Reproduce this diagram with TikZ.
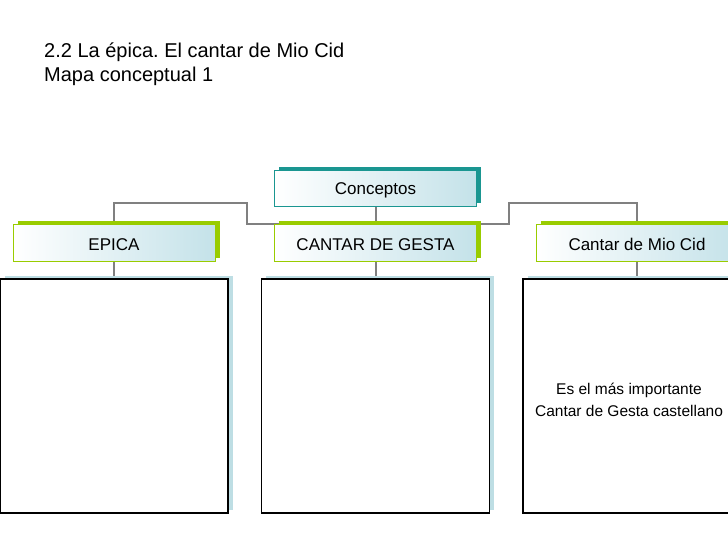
\documentclass[tikz,border=0pt]{standalone}
\usepackage{fontspec}
\setmainfont{Liberation Sans}
\frenchspacing
\usetikzlibrary{shadows,backgrounds}
\definecolor{tealdark}{RGB}{26,150,145}
\definecolor{limegreen}{RGB}{153,204,0}
\definecolor{paleblue}{RGB}{196,226,233}
\definecolor{shadowblue}{RGB}{190,222,228}
\definecolor{linegray}{RGB}{128,128,128}

\begin{document}
\begin{tikzpicture}[x=1pt,y=-1pt,
  topbox/.style={draw=tealdark, line width=0.8pt, left color=white, right color=paleblue, minimum width=202pt, minimum height=36pt, inner sep=0pt, text height=12pt, text depth=0pt, font=\fontsize{17}{20}\selectfont, general shadow={fill=tealdark, shadow xshift=4.5pt, shadow yshift=3pt}},
  midbox/.style={draw=limegreen, line width=0.8pt, left color=white, right color=paleblue, minimum width=202pt, minimum height=37pt, inner sep=0pt, text height=16pt, text depth=0pt, font=\fontsize{17}{20}\selectfont, general shadow={fill=limegreen, shadow xshift=4.5pt, shadow yshift=3pt}},
  bigbox/.style={draw=black, line width=1.4pt, fill=white, minimum width=228pt, minimum height=234pt, inner sep=0pt, general shadow={fill=shadowblue, shadow xshift=4.5pt, shadow yshift=3.5pt}},
  conn/.style={draw=linegray, line width=2pt}
]
\useasboundingbox (0,0) rectangle (728,546);
\clip (0,0) rectangle (728,546);

\node[anchor=base west, inner sep=0pt, font=\fontsize{20}{24}\selectfont] (title) at (44,57) {2.2 La épica. El cantar de Mio Cid};
\node[anchor=base west, inner sep=0pt, font=\fontsize{20}{24}\selectfont] (subtitle) at (44,81) {Mapa conceptual 1};

\node[topbox] (conceptos) at (375.5,188) {Conceptos};

\node[midbox] (epica) at (114,242.5) {EPICA};
\node[midbox] (cantar) at (375.5,242.5) {CANTAR DE GESTA};
\node[midbox] (miocid) at (637,242.5) {Cantar de Mio Cid};

\node[bigbox] (epicabox) at (114,396) {};
\node[bigbox] (cantarbox) at (375.5,396) {};
\node[bigbox] (miocidbox) at (637,396) {};
\node[align=center, inner sep=0pt, font=\fontsize{15.5}{22}\selectfont] (importante) at (629,400) {Es el más importante\\Cantar de Gesta castellano};

\begin{scope}[on background layer]
\fill[white] (0,0) rectangle (728,546);
\draw[conn] (conceptos.south) -- (cantar.north);
\draw[conn] (epica.north) |- (247,203) |- (cantar.north);
\draw[conn] (miocid.north) |- (509,203) |- (cantar.north);
\draw[conn] (epica.south) -- (epicabox.north);
\draw[conn] (cantar.south) -- (cantarbox.north);
\draw[conn] (miocid.south) -- (miocidbox.north);
\end{scope}
\end{tikzpicture}
\end{document}
